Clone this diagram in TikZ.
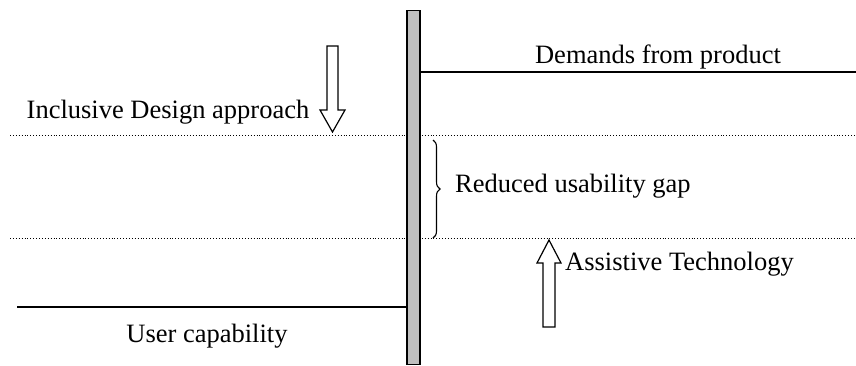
\documentclass[tikz,border=0pt]{standalone}
\usepackage{fontspec}
\setmainfont{Liberation Serif}
\usetikzlibrary{decorations.pathreplacing}
\begin{document}
\begin{tikzpicture}[x=1pt,y=-1pt,
  lbl/.style={font=\fontsize{26.5}{30}\selectfont, inner sep=0pt},
  level/.style={line width=1.6pt},
  dots/.style={dotted, line width=0.9pt},
  blockarrow/.style={draw, line width=1.2pt, fill=white}]
\useasboundingbox (0,0) rectangle (856,365);
% dotted lines
\coordinate (d1l) at (10,135); \coordinate (d1r) at (856,135);
\coordinate (d2l) at (10,238); \coordinate (d2r) at (856,238);
\draw[dots] (d1l) -- (d1r);
\draw[dots] (d2l) -- (d2r);
% levels
\coordinate (dl) at (420,72); \coordinate (dr) at (856,72);
\coordinate (ul) at (17,307); \coordinate (ur) at (407,307);
\draw[level] (dl) -- (dr);
\draw[level] (ul) -- (ur);
% bar
\node[draw, line width=1.2pt, fill=black!25, minimum width=13pt, minimum height=354pt, inner sep=0pt, anchor=north] (bar) at (413.5,10) {};
% labels
\node[lbl, anchor=base] (demands) at (658,63) {Demands from product};
\node[lbl, anchor=base] (user) at (207,342) {User capability};
\node[lbl, anchor=base] (incl) at (168,118) {Inclusive Design approach};
\node[lbl, anchor=base west] (assist) at (565,270) {Assistive Technology};
% brace
\coordinate (bt) at (433,140); \coordinate (bb) at (433,238);
\draw[line width=1.1pt, decorate, decoration={brace, amplitude=7pt}] (bt) -- (bb);
\node[lbl, anchor=base west] (gap) at (455,192) {Reduced usability gap};
% down arrow
\draw[blockarrow] (327,46) -- (338,46) -- (338,110) -- (345,110) -- (332.5,132) -- (320,110) -- (327,110) -- cycle;
% up arrow
\draw[blockarrow] (543,327) -- (555,327) -- (555,263) -- (561,263) -- (549,240) -- (537,263) -- (543,263) -- cycle;
\end{tikzpicture}
\end{document}
